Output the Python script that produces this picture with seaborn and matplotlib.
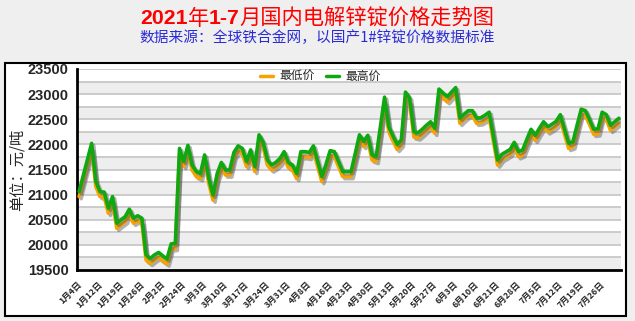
import numpy as np
import pandas as pd
import matplotlib
matplotlib.use("Agg")
import matplotlib.pyplot as plt
import matplotlib.patheffects as pe
from matplotlib.lines import Line2D
import seaborn as sns

tick_labels = ["1月4日", "1月12日", "1月19日", "1月26日", "2月2日", "2月24日", "3月3日",
               "3月10日", "3月17日", "3月24日", "3月31日", "4月8日", "4月16日", "4月23日",
               "4月30日", "5月13日", "5月20日", "5月27日", "6月3日", "6月10日", "6月21日",
               "6月28日", "7月5日", "7月12日", "7月19日", "7月26日"]

high = [21060, 21380, 21700, 22020, 21260, 21060, 21050, 20730, 20960, 20430,
        20500, 20560, 20710, 20530, 20580, 20530, 19800, 19730, 19800, 19850,
        19780, 19720, 20020, 20030, 21920, 21660, 21980, 21590, 21460, 21420,
        21790, 21320, 20990, 21420, 21640, 21490, 21490, 21840, 21970, 21920,
        21660, 21890, 21560, 22190, 22040, 21690, 21590, 21640, 21720, 21855,
        21640, 21590, 21420, 21855, 21855, 21840, 21970, 21660, 21360, 21600,
        21875, 21855, 21660, 21460, 21460, 21460, 21820, 22190, 22060, 22180,
        21790, 21760, 22350, 22940, 22350, 22170, 22000, 22090, 23040, 22920,
        22250, 22230, 22300, 22380, 22450, 22320, 23100, 23020, 22950, 23040,
        23130, 22520, 22600, 22670, 22670, 22520, 22530, 22580, 22640, 22170,
        21690, 21800, 21850, 21900, 22040, 21855, 21890, 22100, 22300, 22180,
        22320, 22450, 22350, 22400, 22460, 22590, 22300, 22020, 22050, 22380,
        22700, 22670, 22490, 22300, 22310, 22640, 22590, 22380, 22450, 22520]

low = [20960, 21280, 21600, 21900, 21160, 20960, 20950, 20630, 20860, 20330,
       20400, 20460, 20610, 20430, 20480, 20430, 19700, 19630, 19700, 19750,
       19680, 19620, 19920, 19930, 21800, 21560, 21880, 21490, 21360, 21320,
       21690, 21220, 20890, 21320, 21540, 21390, 21390, 21740, 21870, 21820,
       21560, 21790, 21460, 22080, 21940, 21590, 21490, 21540, 21620, 21755,
       21540, 21490, 21320, 21755, 21755, 21740, 21870, 21560, 21260, 21500,
       21775, 21755, 21560, 21360, 21360, 21360, 21720, 22090, 21960, 22080,
       21690, 21660, 22250, 22830, 22250, 22070, 21900, 21990, 22940, 22820,
       22150, 22130, 22200, 22280, 22350, 22220, 23000, 22920, 22850, 22940,
       23030, 22420, 22500, 22570, 22570, 22420, 22430, 22480, 22540, 22070,
       21590, 21700, 21750, 21800, 21940, 21755, 21790, 22000, 22200, 22080,
       22220, 22350, 22250, 22300, 22360, 22490, 22200, 21920, 21950, 22280,
       22600, 22570, 22390, 22200, 22210, 22540, 22490, 22280, 22350, 22420]

W, H = 635, 321
sns.set_style("white")
plt.rcParams['font.family'] = ['Liberation Sans', 'Noto Sans CJK SC', 'DejaVu Sans']

fig = plt.figure(figsize=(W / 100, H / 100), dpi=100, facecolor="#efefef")

# white framed panel
panel = plt.Rectangle((5 / W, 5 / H), (626 - 5) / W, (258 - 5) / H, transform=fig.transFigure,
                      facecolor="white", edgecolor="black", linewidth=1.5, zorder=-5)
fig.patches.append(panel)

ax = fig.add_axes([77 / W, 1 - 270 / H, (621 - 77) / W, (270 - 69) / H])
ax.set_zorder(5)
ax.set_facecolor("white")

n = len(high)
idx = np.arange(n)
df = pd.DataFrame({
    "x": np.concatenate([idx, idx]),
    "price": low + high,
    "series": ["最低价"] * n + ["最高价"] * n,
})

# background bands and grid
ymin, ymax = 19500, 23500
for k, y0 in enumerate(np.arange(ymin, ymax, 250)):
    if k % 2 == 0:
        ax.axhspan(y0, y0 + 250, color="#eeeeee", zorder=0, lw=0)
for y0 in np.arange(ymin + 250, ymax + 1, 250):
    ax.axhline(y0, color="#c4c4c4", lw=1.2, zorder=1)

shadow = [pe.SimpleLineShadow(offset=(1.5, -1.5), shadow_color="#555555", alpha=0.45), pe.Normal()]
sns.lineplot(data=df, x="x", y="price", hue="series",
             palette={"最低价": "#f5a300", "最高价": "#10a810"},
             linewidth=2.6, ax=ax, legend=False, zorder=3)
for ln in ax.get_lines()[-2:]:
    ln.set_path_effects(shadow)

ax.set_xlim(-0.5, n - 0.5)
ax.set_ylim(ymin, ymax)
ax.set_yticks(np.arange(ymin, ymax + 1, 500))
ax.set_yticklabels([str(v) for v in range(ymin, ymax + 1, 500)], fontsize=10.5,
                   fontweight="bold", family="Liberation Sans")
ticks = np.arange(-0.5, n, 5)
ax.set_xticks(ticks)
ax.set_xticklabels(tick_labels + [""] * (len(ticks) - len(tick_labels)), rotation=45,
                   ha="right", rotation_mode="anchor", fontsize=6.3, fontweight="bold",
                   family=['Noto Sans CJK SC'])
ax.tick_params(axis="both", direction="out", length=4, width=1.5, color="black", pad=2)
ax.tick_params(axis="x", pad=3)
for s in ["top", "right"]:
    ax.spines[s].set_visible(False)
for s in ["left", "bottom"]:
    ax.spines[s].set_color("black")
    ax.spines[s].set_linewidth(2)
ax.set_xlabel("")
ax.set_ylabel("单位：元/吨", fontsize=11, family=['Noto Sans CJK SC'], labelpad=1)

handles = [Line2D([], [], color="#f5a300", lw=2.5), Line2D([], [], color="#10a810", lw=2.5)]
leg = ax.legend(handles, ["最低价", "最高价"], loc="upper center", bbox_to_anchor=(0.447, 1.025),
                ncol=2, frameon=False, handlelength=1.1, columnspacing=1.0, handletextpad=0.5,
                prop={"family": "Noto Sans CJK SC", "size": 8.5}, borderaxespad=0.1)

# title: digits bold, Chinese regular, laid out piece by piece
pieces = [("2021", "bold", ['Liberation Sans']),
          ("年", "normal", ['Noto Sans CJK SC']),
          ("1-7", "bold", ['Liberation Sans']),
          ("月国内电解锌锭价格走势图", "normal", ['Noto Sans CJK SC'])]
renderer = fig.canvas.get_renderer()
texts, widths = [], []
for s, w, fam in pieces:
    t = fig.text(0, 1 - 19 / H, s, ha="left", va="center", color="#ff0000",
                 fontsize=15.3, fontweight=w, family=fam)
    texts.append(t)
    widths.append(t.get_window_extent(renderer).width)
x0 = (W - sum(widths)) / 2
for t, wd in zip(texts, widths):
    t.set_x(x0 / W)
    x0 += wd

fig.text(0.5, 1 - 38 / H, "数据来源：全球铁合金网，以国产1#锌锭价格数据标准", ha="center", va="center",
         color="#2b2bd6", fontsize=10.6, family=['Noto Sans CJK SC'])

fig.savefig("out.png", dpi=100, facecolor=fig.get_facecolor())
